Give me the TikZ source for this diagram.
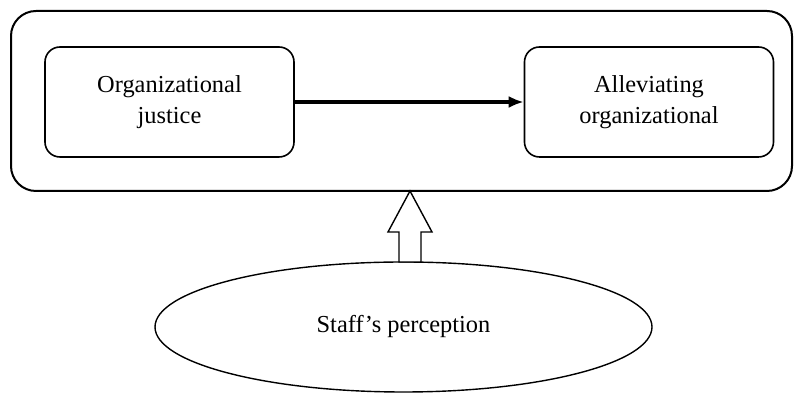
\documentclass[tikz,border=0pt]{standalone}
\usepackage{fontspec}
\setmainfont{Liberation Serif}
\usetikzlibrary{shapes.geometric,arrows.meta,calc}
\begin{document}
\begin{tikzpicture}[x=0.5pt,y=-0.5pt,
  outerbox/.style={draw, line width=1pt, rounded corners=12.5pt, minimum width=390.5pt, minimum height=90pt, inner sep=0pt},
  innerbox/.style={draw, line width=0.8pt, rounded corners=7.5pt, minimum width=124.5pt, minimum height=55pt, inner sep=0pt, align=center, font=\fontsize{12.2}{15.5}\selectfont},
  ellbox/.style={draw, ellipse, line width=0.7pt, minimum width=248.5pt, minimum height=65pt, inner sep=0pt, font=\fontsize{12.2}{15.5}\selectfont},
  mainarrow/.style={line width=1.6pt, -{Latex[length=7.5pt,width=6pt]}},
  hollow/.style={draw, line width=0.7pt, fill=white}
]
\useasboundingbox (0,0) rectangle (794,394);
\node[outerbox] (outer) at (401.5,101) {};
\node[innerbox] (oj) at (169.5,102) {Organizational\\justice};
\node[innerbox] (ao) at (649,102) {Alleviating\\organizational};
\node[ellbox] (sp) at (403.5,327) {Staff's perception};
\draw[mainarrow] (oj.east) -- (ao.west);
% hollow block arrow from the ellipse up to the outer box
\coordinate (tip) at (410,191);
\draw[hollow, line join=miter]
  (tip) -- ++(22,41) -- ++(-11,0) -- ++(0,30) -- ++(-22,0) -- ++(0,-30) -- ++(-11,0) -- cycle;
\end{tikzpicture}
\end{document}
